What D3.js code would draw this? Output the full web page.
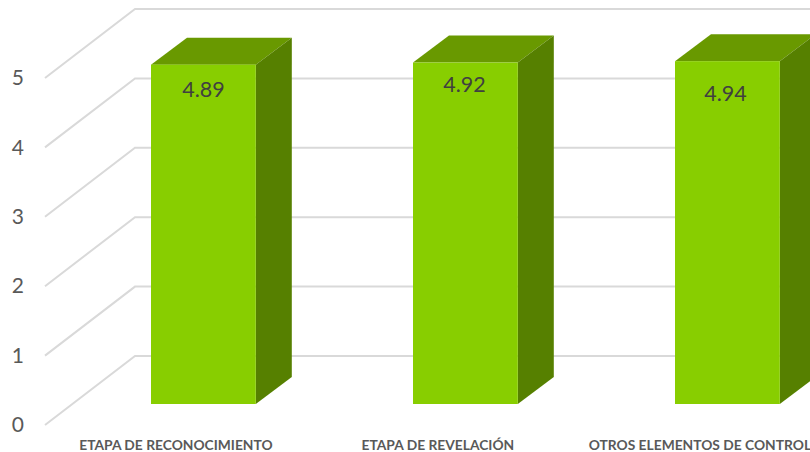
<!DOCTYPE html>
<html>
<head>
<meta charset="utf-8">
<script src="https://cdn.jsdelivr.net/npm/d3@7"></script>
<style>
  html, body { margin: 0; padding: 0; background: #fff; }
  svg { display: block; }
  text { font-family: Lato, "Open Sans", sans-serif; fill: #595959; }
  .cat-label { font-size: 13.8px; font-weight: 700; text-anchor: middle; }
  .val-label { font-size: 21.5px; text-anchor: middle; fill: #404040; }
  .tick text { font-size: 21px; }
</style>
</head>
<body>
<svg id="chart" width="810" height="452"></svg>
<script>
(function (d3) {
  'use strict'
  const categories = ['ETAPA DE RECONOCIMIENTO', 'ETAPA DE REVELACIÓN', 'OTROS ELEMENTOS DE CONTROL']
  const values = [4.89, 4.92, 4.94]
  const yTicks = [0, 1, 2, 3, 4, 5]

  const svg = d3.select('#chart')
  const width = +svg.attr('width')

  // floor of the 3D box: back wall is at y 356, front edge 90px left and 69px down
  const wall = { left: 135, base: 356, top: 9, dx: 90, dy: 69 }
  // bars stand in the middle of the floor
  const depth = { dx: 36, dy: 27 }
  const barBase = 404
  const unit = (wall.base - wall.top) / 5

  const xScale = d3.scaleBand().
    domain(categories).
    range([72.4, 858.4]).
    paddingInner(0.6).
    paddingOuter(0.3)

  const yWall = d3.scaleLinear().domain([0, 5]).range([wall.base, wall.top])
  const yBar = d3.scaleLinear().domain([0, 5]).range([barBase, barBase - 5 * unit])

  // gridlines, back wall and left wall
  const grid = svg.append('g').
    attr('fill', 'none').
    attr('stroke', '#d9d9d9').
    attr('stroke-width', 2)

  grid.selectAll('path').
    data(yTicks).
    enter().
    append('path').
    attr('d', d => d3.line()([
      [wall.left - wall.dx, yWall(d) + wall.dy],
      [wall.left, yWall(d)],
      [width, yWall(d)],
    ]))

  // tick labels sit next to the front edge of the left wall
  const yAxis = d3.axisLeft(yWall).
    tickValues(yTicks).
    tickFormat(d3.format('d')).
    tickSize(0).
    tickPadding(0)

  const yAxisG = svg.append('g').
    attr('transform', `translate(24, ${wall.dy})`).
    call(yAxis)
  yAxisG.selectAll('.domain').remove()

  // bars: top, side, then front face
  const bars = svg.selectAll('.bar').
    data(categories.map((c, i) => ({ c, v: values[i] }))).
    enter().
    append('g').
    attr('class', 'bar')

  const x0 = d => xScale(d.c)
  const x1 = d => xScale(d.c) + xScale.bandwidth()
  const outline = pts => d3.line()(pts) + 'Z'

  bars.append('path').
    attr('fill', '#699900').
    attr('d', d => outline([
      [x0(d), yBar(d.v)],
      [x0(d) + depth.dx, yBar(d.v) - depth.dy],
      [x1(d) + depth.dx, yBar(d.v) - depth.dy],
      [x1(d), yBar(d.v)],
    ]))

  bars.append('path').
    attr('fill', '#568000').
    attr('d', d => outline([
      [x1(d), yBar(d.v)],
      [x1(d) + depth.dx, yBar(d.v) - depth.dy],
      [x1(d) + depth.dx, yBar(0) - depth.dy],
      [x1(d), yBar(0)],
    ]))

  bars.append('rect').
    attr('fill', '#88ce00').
    attr('x', x0).
    attr('y', d => yBar(d.v)).
    attr('width', xScale.bandwidth()).
    attr('height', d => yBar(0) - yBar(d.v))

  // the value labels were placed by hand in the original
  const labelDrop = [32, 29, 40]
  const labelShift = [0, -1, -2]
  bars.append('text').
    attr('class', 'val-label').
    attr('x', (d, i) => xScale(d.c) + xScale.bandwidth() / 2 + labelShift[i]).
    attr('y', (d, i) => yBar(d.v) + labelDrop[i]).
    text(d => d.v.toFixed(2))

  // category labels are centred about 27px left of their bars
  svg.selectAll('.cat-label').
    data(categories).
    enter().
    append('text').
    attr('class', 'cat-label').
    attr('x', d => xScale(d) + xScale.bandwidth() / 2 - 27.5).
    attr('y', 449.5).
    text(d => d)
}(d3))
</script>
</body>
</html>
